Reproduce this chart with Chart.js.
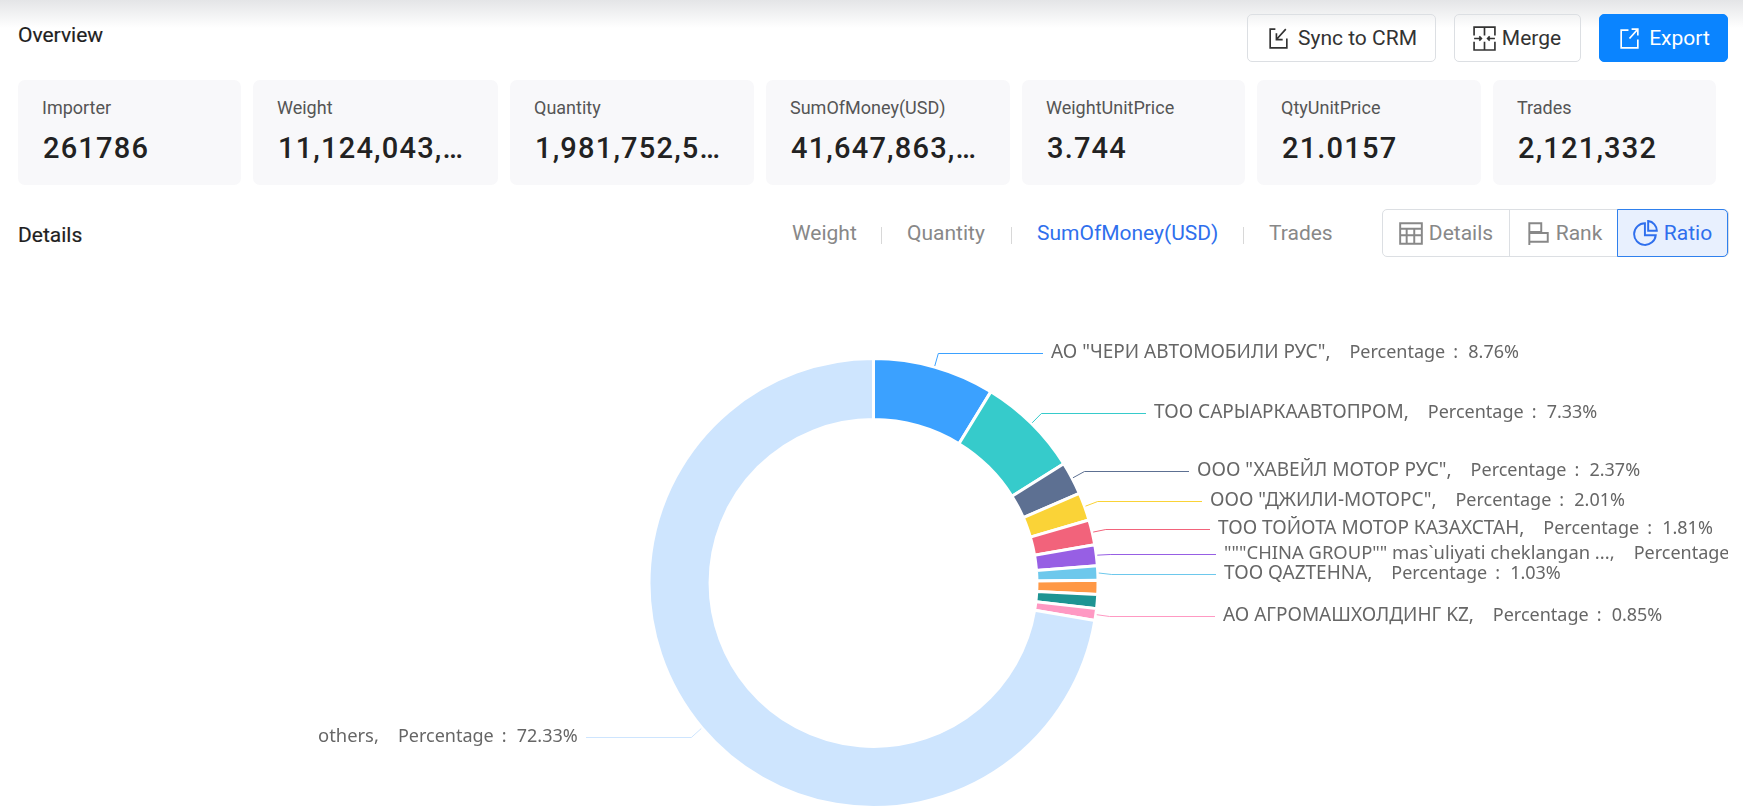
<!DOCTYPE html>
<html>
<head>
<meta charset="utf-8">
<title>Overview</title>
<script src="https://cdn.jsdelivr.net/npm/chart.js@4/dist/chart.umd.min.js"></script>
<style>
  html, body { margin: 0; padding: 0; background: #fff; }
  body { width: 1743px; height: 811px; position: relative; overflow: hidden; font-family: Roboto, sans-serif; color: #222; }
  .abs { position: absolute; white-space: nowrap; }
  #topShade { left: 0; top: 0; width: 1743px; height: 28px; background: linear-gradient(#e4e5e7, #ffffff); }
  .heading { left: 18px; font-size: 21px; font-weight: 400; -webkit-text-stroke: 0.2px #1f1f1f; line-height: 24px; color: #1f1f1f; }
  .btn { top: 14px; height: 46px; border: 1px solid #dcdfe3; border-radius: 5px; font-size: 21px; color: #333; display: flex; align-items: center; justify-content: center; gap: 7px; }
  .btn svg { width: 25px; height: 25px; fill: none; stroke: currentColor; stroke-width: 1.6; }
  .btn.primary { background: #0a84ff; border-color: #0a84ff; color: #fff; }
  .card { top: 80px; height: 105px; background: #f8f8fa; border-radius: 7px; }
  .card .name { position: absolute; left: 24px; top: 16px; font-size: 18px; line-height: 24px; color: #555; }
  .card .val { position: absolute; left: 25px; top: 49px; font-size: 29px; font-weight: 500; line-height: 38px; letter-spacing: 1.2px; color: #222; }
  .tab { top: 221px; font-size: 21px; line-height: 24px; color: #888; }
  .tab.on { color: #2f6fed; }
  .tabSep { top: 227px; width: 1px; height: 17px; background: #d8d8d8; }
  #seg { left: 1382px; top: 209px; width: 345px; height: 46px; border: 1px solid #dcdfe3; border-radius: 5px; }
  .segItem { top: 209px; height: 48px; display: flex; align-items: center; justify-content: center; gap: 5px; font-size: 21px; color: #888; box-sizing: border-box; }
  .segItem svg { width: 26px; height: 26px; fill: none; stroke: currentColor; stroke-width: 1.8; }
  .segItem.on { background: #e8f0fe; border: 1px solid #2f80ed; border-radius: 0 5px 5px 0; color: #2f6fed; }
  #chartBox { left: 0; top: 270px; width: 1743px; height: 541px; }
</style>
</head>
<body>
<div class="abs" id="topShade"></div>
<div class="abs heading" style="top:23px">Overview</div>

<div class="abs btn" style="left:1247px;width:187px">
  <svg viewBox="0 0 24 24"><path d="M9 3H4v18h16v-9M19 3l-9 10M10 7v6h6"/></svg>Sync to CRM</div>
<div class="abs btn" style="left:1454px;width:125px">
  <svg viewBox="0 0 24 24" style="margin:0 -2px 0 -2px"><path d="M2 9V1h20v8M2 15v8h20v-8M12 1v8M12 15v8M2 12h7M15 12h7M7 10l2 2-2 2M17 10l-2 2 2 2"/></svg>Merge</div>
<div class="abs btn primary" style="left:1599px;width:127px">
  <svg viewBox="0 0 24 24"><path d="M11 4H4v17h16v-8M14 3h6v6M20 3l-8 9"/></svg>Export</div>

<div id="cards"></div>

<div class="abs heading" style="top:223px">Details</div>
<div id="tabs"></div>

<div class="abs" id="seg"></div>
<div class="abs segItem" style="left:1382px;width:127px">
  <svg viewBox="0 0 24 24"><path d="M2 3h20v19H2zM2 8h20M2 14h20M8 8v14M15 8v14"/></svg>Details</div>
<div class="abs" style="left:1509px;top:210px;width:1px;height:47px;background:#dcdfe3"></div>
<div class="abs segItem" style="left:1510px;width:107px">
  <svg viewBox="0 0 24 24"><path d="M4 2v21M4 3h11v8H4M4 12h17v8H4"/></svg>Rank</div>
<div class="abs segItem on" style="left:1617px;width:111px">
  <svg viewBox="0 0 24 24"><path d="M11 3a10 10 0 1 0 10 11H11zM14 1a9 9 0 0 1 8 9h-8z"/></svg>Ratio</div>

<div class="abs" id="chartBox"><canvas id="myChart" width="1743" height="541"></canvas></div>

<script>
// summary cards
const cardNames = ['Importer', 'Weight', 'Quantity', 'SumOfMoney(USD)', 'WeightUnitPrice', 'QtyUnitPrice', 'Trades'];
const cardValues = ['261786', '11,124,043,…', '1,981,752,5…', '41,647,863,…', '3.744', '21.0157', '2,121,332'];
const cardLeft = [18, 253, 510, 766, 1022, 1257, 1493];
const cardWidth = [223, 245, 244, 244, 223, 224, 223];

// tabs above the chart
const tabNames = ['Weight', 'Quantity', 'SumOfMoney(USD)', 'Trades'];
const tabLeft = [792, 907, 1037, 1269];
const tabSepLeft = [881, 1011, 1243];

// doughnut data, percent of total (purple, orange and teal slices are estimated)
const importers = [
  'АО "ЧЕРИ АВТОМОБИЛИ РУС"',
  'ТОО САРЫАРКААВТОПРОМ',
  'ООО "ХАВЕЙЛ МОТОР РУС"',
  'ООО "ДЖИЛИ-МОТОРС"',
  'ТОО ТОЙОТА МОТОР КАЗАХСТАН',
  '"""CHINA GROUP"" mas`uliyati cheklangan ...',
  'ТОО QAZTEHNA',
  '',
  '',
  'АО АГРОМАШХОЛДИНГ KZ',
  'others'
];
const percentages = [8.76, 7.33, 2.37, 2.01, 1.81, 1.5, 1.03, 1.01, 1.0, 0.85, 72.33];
const sliceColors = ['#3ba1ff', '#36cbcb', '#5d7092', '#fad337', '#f2637b', '#975fe4', '#6dc8ec', '#ff9845', '#1e9493', '#ff99c3', '#cee5fe'];

// label layout in canvas pixels, null means the slice has no label
const leaderY = [83, 143, 201, 231, 259, 284, 304, null, null, 346, 467];
const labelX = [1051, 1154, 1197, 1210, 1218, 1224, 1224, null, null, 1223, 318];

cardNames.forEach((name, i) => {
    const card = document.createElement('div');
    card.className = 'abs card';
    card.style.left = cardLeft[i] + 'px';
    card.style.width = cardWidth[i] + 'px';
    card.innerHTML = '<div class="name"></div><div class="val"></div>';
    card.querySelector('.name').textContent = name;
    card.querySelector('.val').textContent = cardValues[i];
    document.getElementById('cards').appendChild(card);
});

tabNames.forEach((name, i) => {
    const tab = document.createElement('div');
    tab.className = 'abs tab' + (name === 'SumOfMoney(USD)' ? ' on' : '');
    tab.style.left = tabLeft[i] + 'px';
    tab.textContent = name;
    document.getElementById('tabs').appendChild(tab);
});
tabSepLeft.forEach((left) => {
    const sep = document.createElement('div');
    sep.className = 'abs tabSep';
    sep.style.left = left + 'px';
    document.getElementById('tabs').appendChild(sep);
});

// writes name, comma, Percentage, colon and value
function drawLabel(ctx, i, x, y) {
    // cyrillic glyphs run wider in the reference
    ctx.font = (/[А-Я]/.test(importers[i]) ? '19px' : '18.4px') + ' "Noto Sans"';
    ctx.fillText(importers[i] + ',', x, y);
    x += ctx.measureText(importers[i]).width + 24;
    ctx.font = '18px "Noto Sans"';
    ctx.fillText('Percentage', x, y);
    x += ctx.measureText('Percentage').width + 8;
    ctx.fillText(':', x, y);
    x += 15;
    ctx.fillText(percentages[i].toFixed(2) + '%', x, y);
}

// draws the elbow lines and the text next to each slice
const sliceLabels = {
    id: 'sliceLabels',
    afterDatasetsDraw(chart) {
        const ctx = chart.ctx;
        const arcs = chart.getDatasetMeta(0).data;
        ctx.save();
        ctx.beginPath();
        ctx.rect(0, 0, 1728, chart.height);
        ctx.clip();
        ctx.textBaseline = 'middle';
        ctx.textAlign = 'left';
        arcs.forEach((arc, i) => {
            if (leaderY[i] === null) return;
            const p = arc.getProps(['x', 'y', 'startAngle', 'endAngle', 'outerRadius'], true);
            const mid = (p.startAngle + p.endAngle) / 2;
            const dx = Math.cos(mid);
            const dy = Math.sin(mid);
            const lineEnd = dx >= 0 ? labelX[i] - 8 : 586;
            ctx.strokeStyle = sliceColors[i];
            ctx.lineWidth = 1;
            ctx.beginPath();
            ctx.moveTo(p.x + dx * (p.outerRadius + 1), p.y + dy * (p.outerRadius + 1));
            ctx.lineTo(p.x + dx * (p.outerRadius + 14), leaderY[i] + 0.5);
            ctx.lineTo(lineEnd, leaderY[i] + 0.5);
            ctx.stroke();
            ctx.fillStyle = '#666';
            drawLabel(ctx, i, labelX[i], leaderY[i] - 0.5);
        });
        ctx.restore();
    }
};

const chart = new Chart(document.getElementById('myChart'), {
    type: 'doughnut',
    data: {
        labels: importers,
        datasets: [{
            data: percentages,
            backgroundColor: sliceColors,
            borderColor: '#ffffff',
            borderWidth: 3
        }]
    },
    options: {
        responsive: false,
        animation: false,
        cutout: '72.8%',
        layout: { padding: { left: 4, right: 0, top: 87, bottom: 2 } },
        plugins: {
            legend: { display: false },
            tooltip: { enabled: false }
        }
    },
    plugins: [sliceLabels]
});
</script>
</body>
</html>
